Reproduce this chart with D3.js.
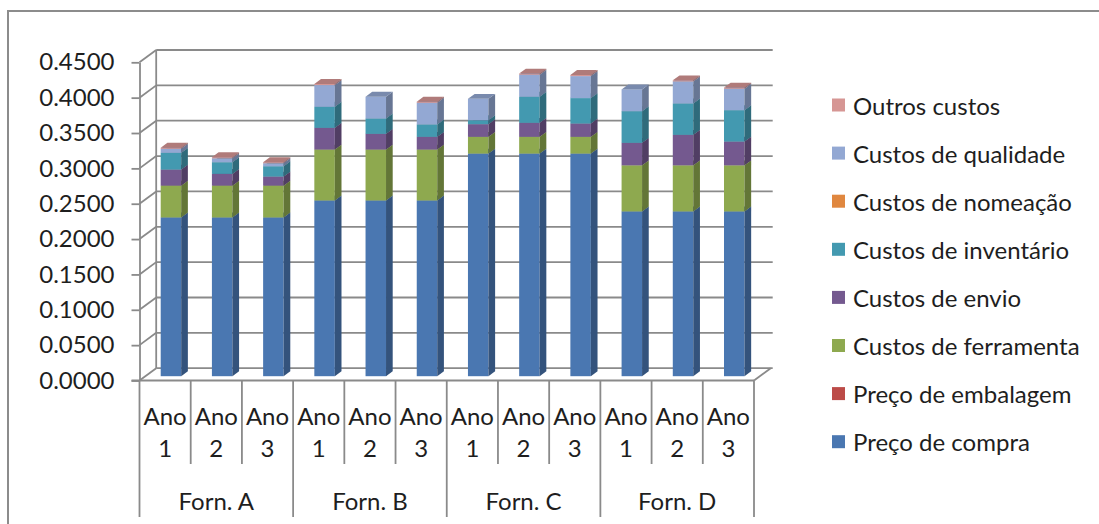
<!DOCTYPE html>
<html>
<head>
<meta charset="utf-8">
<script src="https://cdn.jsdelivr.net/npm/d3@7/dist/d3.min.js"></script>
<style>
  body { margin: 0; background: white; }
  text { font-family: Lato, "Open Sans", sans-serif; fill: #1e1e1e; }
</style>
</head>
<body>
<div id="chart"></div>
<script>
let w = 1099;
let h = 524;

// categories
let suppliers = ["Forn. A", "Forn. B", "Forn. C", "Forn. D"];
let years = ["Ano 1", "Ano 2", "Ano 3"];
let yTicks = [0, 0.05, 0.1, 0.15, 0.2, 0.25, 0.3, 0.35, 0.4, 0.45];

// series, bottom to top (A1 A2 A3 B1 B2 B3 C1 C2 C3 D1 D2 D3)
let seriesNames = ["Preço de compra", "Preço de embalagem", "Custos de ferramenta", "Custos de envio",
  "Custos de inventário", "Custos de nomeação", "Custos de qualidade", "Outros custos"];
let precoCompra = [0.2245, 0.2245, 0.2245, 0.2485, 0.2485, 0.2485, 0.3148, 0.3148, 0.3148, 0.2330, 0.2330, 0.2330];
let precoEmbalagem = [0, 0, 0, 0, 0, 0, 0, 0, 0, 0, 0, 0];
let custosFerramenta = [0.0450, 0.0450, 0.0450, 0.0720, 0.0720, 0.0720, 0.0237, 0.0237, 0.0237, 0.0652, 0.0652, 0.0652];
let custosEnvio = [0.0227, 0.0166, 0.0128, 0.0307, 0.0222, 0.0180, 0.0179, 0.0198, 0.0188, 0.0318, 0.0431, 0.0336];
let custosInventario = [0.0237, 0.0165, 0.0146, 0.0298, 0.0217, 0.0175, 0.0056, 0.0369, 0.0360, 0.0448, 0.0444, 0.0444];
let custosNomeacao = [0, 0, 0, 0, 0, 0, 0, 0, 0, 0, 0, 0];
let custosQualidade = [0.0057, 0.0055, 0.0042, 0.0307, 0.0308, 0.0307, 0.0303, 0.0312, 0.0311, 0.0308, 0.0312, 0.0304];
let outrosCustos = [0.0015, 0.0015, 0.0015, 0.0015, 0, 0.0015, 0, 0.0015, 0.0015, 0, 0.0015, 0.0015];

let seriesValues = [precoCompra, precoEmbalagem, custosFerramenta, custosEnvio,
  custosInventario, custosNomeacao, custosQualidade, outrosCustos];
let seriesColors = ["#4a77b1", "#bc4b48", "#8ea94f", "#74598f", "#4399b0", "#e0873f", "#93a8d3", "#d69694"];

let svg = d3.select("#chart").append("svg")
  .attr("width", w)
  .attr("height", h);

// outer chart border (runs off right/bottom)
svg.append("rect")
  .attr("x", 8).attr("y", 11)
  .attr("width", 1200).attr("height", 600)
  .attr("fill", "none")
  .attr("stroke", "#8c8c8c")
  .attr("stroke-width", 2);

let cats = [];
suppliers.forEach(s => years.forEach(yr => cats.push(s + "|" + yr)));

let x0 = 139.5, x1 = 754;
let y = d3.scaleLinear().domain([0, 0.45]).range([380.5, 62.3]);
let xCat = d3.scaleBand().domain(cats).range([x0, x1]);
let xBar = d3.scaleBand().domain(cats).range([x0, x1]).paddingInner(0.6).paddingOuter(0.3);

// depth of the 3d box
let DX = 16.7, DY = -12.3;
let zFront = 0.35, zDepth = 0.4;

let gridColor = "#8a8a8a";
let grid = svg.append("g");

// back wall + side wall gridlines
yTicks.forEach(t => {
  grid.append("line")
    .attr("x1", x0 + DX).attr("x2", x1 + DX + 2)
    .attr("y1", y(t) + DY).attr("y2", y(t) + DY)
    .attr("stroke", gridColor).attr("stroke-width", 1.8);
  grid.append("line")
    .attr("x1", x0).attr("x2", x0 + DX)
    .attr("y1", y(t)).attr("y2", y(t) + DY)
    .attr("stroke", gridColor).attr("stroke-width", 1.8);
});
grid.append("line")
  .attr("x1", x0 + DX).attr("x2", x0 + DX)
  .attr("y1", y(0.45) + DY).attr("y2", y(0) + DY)
  .attr("stroke", gridColor).attr("stroke-width", 1.8);
// floor right edge
grid.append("line")
  .attr("x1", x1).attr("x2", x1 + DX)
  .attr("y1", y(0)).attr("y2", y(0) + DY)
  .attr("stroke", gridColor).attr("stroke-width", 1.8);

// y axis
let yAxis = d3.axisLeft(y)
  .tickValues(yTicks)
  .tickFormat(d3.format(".4f"))
  .tickSize(8)
  .tickSizeOuter(0)
  .tickPadding(17);

let yAxisG = svg.append("g")
  .attr("transform", "translate(" + x0 + ",0)")
  .call(yAxis);
yAxisG.selectAll("path, line").attr("stroke", gridColor).attr("stroke-width", 1.8);
yAxisG.selectAll("text")
  .style("font-family", "Lato, sans-serif")
  .style("font-size", "24px")
  .attr("fill", "#1e1e1e");

// bars
let barsG = svg.append("g");
let bw = xBar.bandwidth();
let sdx = DX * zDepth, sdy = DY * zDepth;

cats.forEach((c, i) => {
  let bx = xBar(c) + DX * zFront;
  let cum = 0;
  let segs = [];
  seriesValues.forEach((vals, s) => {
    let v = vals[i];
    if (v > 0) segs.push({ s: s, from: cum, to: cum + v });
    cum += v;
  });
  let g = barsG.append("g");
  segs.forEach(seg => {
    let yb = y(seg.from) + DY * zFront;
    let yt = y(seg.to) + DY * zFront;
    let base = d3.color(seriesColors[seg.s]);
    // front
    g.append("rect")
      .attr("x", bx).attr("y", yt)
      .attr("width", bw).attr("height", yb - yt)
      .attr("fill", base.formatHex());
    // side
    g.append("path")
      .attr("d", "M" + (bx + bw) + "," + yt + "L" + (bx + bw + sdx) + "," + (yt + sdy) +
        "L" + (bx + bw + sdx) + "," + (yb + sdy) + "L" + (bx + bw) + "," + yb + "Z")
      .attr("fill", base.darker(1).formatHex());
    // top
    g.append("path")
      .attr("d", "M" + bx + "," + yt + "L" + (bx + bw) + "," + yt +
        "L" + (bx + bw + sdx) + "," + (yt + sdy) + "L" + (bx + sdx) + "," + (yt + sdy) + "Z")
      .attr("fill", base.darker(0.55).formatHex());
  });
});

// front floor edge (category axis)
svg.append("line")
  .attr("x1", x0 - 8).attr("x2", x1)
  .attr("y1", y(0)).attr("y2", y(0))
  .attr("stroke", gridColor).attr("stroke-width", 1.8);

// category table lines
let catLines = svg.append("g");
cats.forEach((c, i) => {
  let groupEdge = i % 3 === 0;
  catLines.append("line")
    .attr("x1", xCat(c)).attr("x2", xCat(c))
    .attr("y1", y(0)).attr("y2", groupEdge ? 517 : 464)
    .attr("stroke", gridColor).attr("stroke-width", 1.8);
});
catLines.append("line")
  .attr("x1", x1).attr("x2", x1)
  .attr("y1", y(0)).attr("y2", 517)
  .attr("stroke", gridColor).attr("stroke-width", 1.8);

// category labels
let labelG = svg.append("g").style("font-size", "24px");
cats.forEach(c => {
  let parts = c.split("|")[1].split(" ");
  let cx = xCat(c) + xCat.bandwidth() / 2;
  labelG.append("text").attr("x", cx).attr("y", 415)
    .attr("text-anchor", "middle").attr("dominant-baseline", "central").text(parts[0]);
  labelG.append("text").attr("x", cx).attr("y", 447)
    .attr("text-anchor", "middle").attr("dominant-baseline", "central").text(parts[1]);
});
suppliers.forEach((s, k) => {
  let cx = xCat(s + "|" + years[0]) + xCat.bandwidth() * 1.5;
  labelG.append("text").attr("x", cx).attr("y", 500)
    .attr("text-anchor", "middle").attr("dominant-baseline", "central").text(s);
});

// legend (top series first)
let legend = svg.append("g").style("font-size", "24px");
let legendOrder = d3.range(seriesNames.length).reverse();
legendOrder.forEach((s, k) => {
  let ly = 105 + k * 48.1;
  legend.append("rect")
    .attr("x", 832).attr("y", ly - 6.5)
    .attr("width", 13).attr("height", 13)
    .attr("fill", seriesColors[s]);
  legend.append("text")
    .attr("x", 853).attr("y", ly)
    .attr("dominant-baseline", "central")
    .text(seriesNames[s]);
});
</script>
</body>
</html>
